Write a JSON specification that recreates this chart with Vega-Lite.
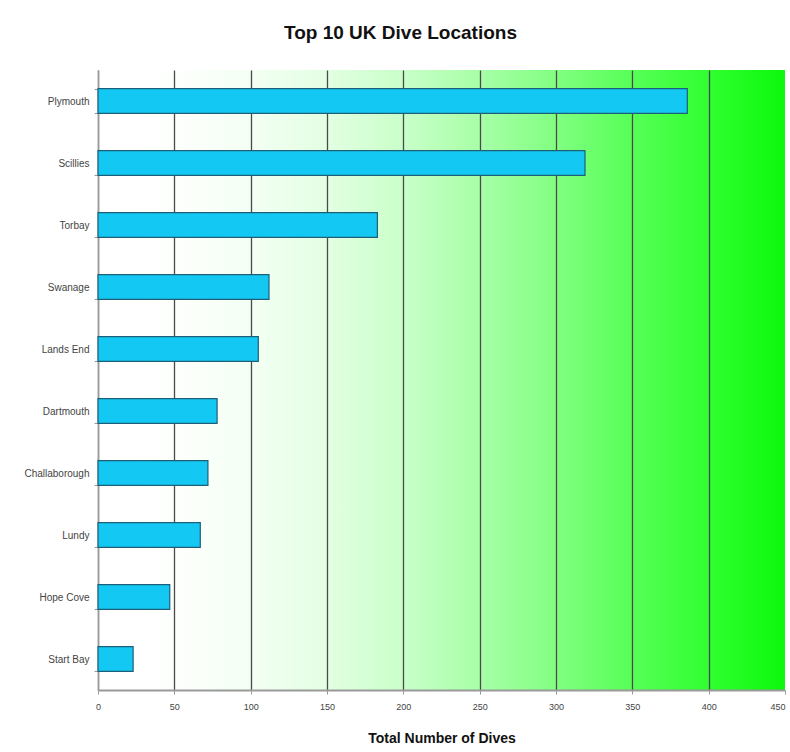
{
  "$schema": "https://vega.github.io/schema/vega-lite/v6.json",
  "width": 687,
  "height": 620,
  "autosize": {"type": "none"},
  "padding": {"left": 98, "top": 70, "right": 5, "bottom": 62},
  "background": "#ffffff",
  "title": {
    "text": "Top 10 UK Dive Locations",
    "font": "Liberation Sans",
    "fontSize": 19,
    "fontWeight": "bold",
    "color": "#111111",
    "anchor": "middle",
    "frame": "group",
    "dx": -41,
    "offset": 22
  },
  "data": {
    "values": [
      {"location": "Plymouth", "dives": 386},
      {"location": "Scillies", "dives": 319},
      {"location": "Torbay", "dives": 183},
      {"location": "Swanage", "dives": 112},
      {"location": "Lands End", "dives": 105},
      {"location": "Dartmouth", "dives": 78},
      {"location": "Challaborough", "dives": 72},
      {"location": "Lundy", "dives": 67},
      {"location": "Hope Cove", "dives": 47},
      {"location": "Start Bay", "dives": 23}
    ]
  },
  "mark": {"type": "bar", "fill": "#14c8f4", "stroke": "#1d5f78", "strokeWidth": 1.2},
  "encoding": {
    "y": {
      "field": "location",
      "type": "nominal",
      "sort": null,
      "scale": {"paddingInner": 0.6, "paddingOuter": 0.3},
      "axis": {
        "title": null,
        "domainColor": "#9a9a9a",
        "domainWidth": 1.5,
        "tickColor": "#9a9a9a",
        "tickSize": 4,
        "tickBand": "extent",
        "labelFont": "Liberation Sans",
        "labelFontSize": 10,
        "labelColor": "#444444",
        "labelPadding": 5
      }
    },
    "x": {
      "field": "dives",
      "type": "quantitative",
      "scale": {"domain": [0, 450], "nice": false},
      "axis": {
        "values": [0, 50, 100, 150, 200, 250, 300, 350, 400, 450],
        "labelFlush": false,
        "labelAlign": {"condition": {"test": "datum.value === 450", "value": "right"}, "value": "center"},
        "grid": true,
        "gridColor": "#4a4a4a",
        "gridWidth": 1.3,
        "gridOpacity": {"condition": {"test": "datum.value === 450", "value": 0}, "value": 1},
        "domainColor": "#9a9a9a",
        "domainWidth": 2,
        "tickColor": "#9a9a9a",
        "tickSize": 4,
        "labelFont": "Liberation Sans",
        "labelFontSize": 9,
        "labelColor": "#444444",
        "labelPadding": 8,
        "title": "Total Number of Dives",
        "titleFont": "Liberation Sans",
        "titleFontSize": 14,
        "titleFontWeight": "bold",
        "titleColor": "#111111",
        "titlePadding": 20
      }
    }
  },
  "config": {
    "view": {
      "stroke": null,
      "fill": {
        "gradient": "linear",
        "x1": 0, "y1": 0, "x2": 1, "y2": 0,
        "stops": [
          {"offset": 0, "color": "#ffffff"},
          {"offset": 0.11, "color": "#fdfffd"},
          {"offset": 0.22, "color": "#f4fff4"},
          {"offset": 0.33, "color": "#e3ffe3"},
          {"offset": 0.44, "color": "#caffca"},
          {"offset": 0.56, "color": "#a6ffa6"},
          {"offset": 0.67, "color": "#80ff80"},
          {"offset": 0.78, "color": "#56ff56"},
          {"offset": 0.89, "color": "#30ff30"},
          {"offset": 1, "color": "#0cf80c"}
        ]
      }
    }
  }
}
